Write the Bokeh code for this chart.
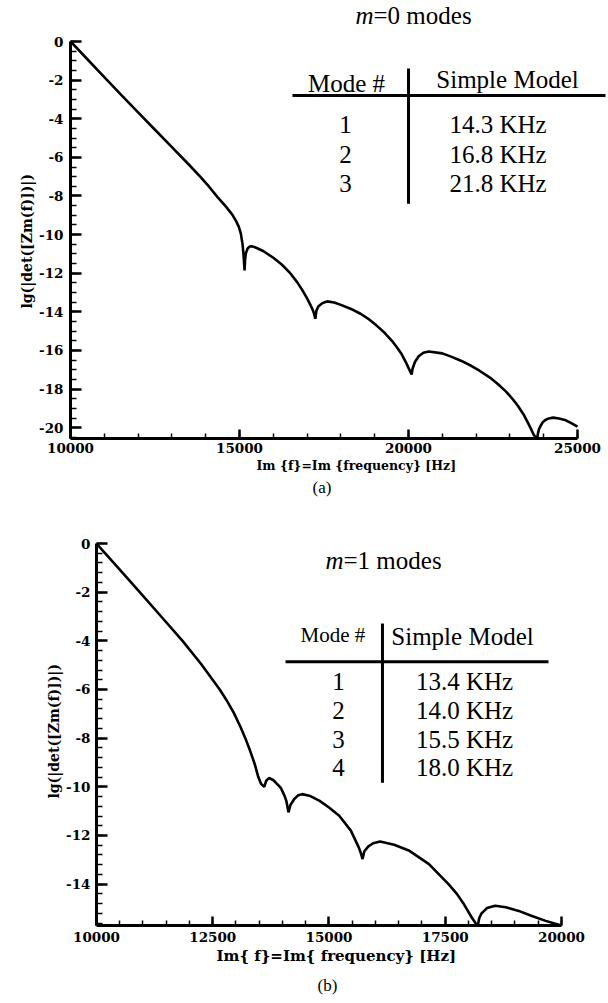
from bokeh.plotting import figure
from bokeh.models import Range1d, SingleIntervalTicker, Label, Arrow, Title
from bokeh.embed import file_html
from bokeh.resources import INLINE

# ---------------- data: panel (a), m=0 modes ----------------
freq_a = [10000, 10500, 11000, 11500, 12000, 12500, 13000, 13500, 13850, 14100,
          14350, 14600, 14800, 14900, 14980, 15040, 15090, 15120, 15150, 15165,
          15190, 15240, 15300, 15350, 15440, 15700, 16000, 16250, 16500, 16700,
          16850, 17000, 17100, 17190, 17244, 17275, 17330, 17450, 17590, 17800,
          18000, 18300, 18580, 18800, 19050, 19300, 19510, 19650, 19800, 19920,
          20000, 20060, 20093, 20120, 20190, 20300, 20440, 20600, 21000, 21260,
          21550, 21840, 22100, 22420, 22650, 22880, 23050, 23230, 23400, 23520,
          23620, 23700, 23760, 23800, 23830, 23860, 23910, 23970, 24050, 24150,
          24280, 24450, 24630, 24800, 25000]
lgdet_a = [0.0, -0.92, -1.84, -2.76, -3.67, -4.57, -5.47, -6.37, -7.02, -7.52,
           -8.06, -8.55, -9.0, -9.3, -9.6, -9.95, -10.5, -11.05, -11.85, -11.3,
           -10.95, -10.72, -10.62, -10.6, -10.64, -10.85, -11.2, -11.55, -12.0, -12.45,
           -12.85, -13.3, -13.65, -14.0, -14.36, -13.95, -13.72, -13.55, -13.46, -13.52,
           -13.64, -13.85, -14.1, -14.35, -14.7, -15.1, -15.5, -15.82, -16.2, -16.6,
           -16.9, -17.12, -17.25, -16.95, -16.6, -16.3, -16.12, -16.05, -16.15, -16.32,
           -16.53, -16.78, -17.05, -17.42, -17.75, -18.12, -18.45, -18.85, -19.3, -19.7,
           -20.05, -20.35, -20.5, -20.65, -20.3, -20.08, -19.9, -19.72, -19.6, -19.52,
           -19.48, -19.52, -19.6, -19.75, -19.95]
modes_a = ["1", "2", "3"]
model_a = ["14.3 KHz", "16.8 KHz", "21.8 KHz"]

# ---------------- data: panel (b), m=1 modes ----------------
freq_b = [10000, 10500, 10930, 11400, 11850, 12250, 12650, 12800, 12950, 13100,
          13200, 13300, 13400, 13480, 13540, 13607, 13650, 13708, 13800, 13960,
          14040, 14086, 14128, 14170, 14253, 14330, 14421, 14600, 14800, 15000,
          15220, 15470, 15640, 15690, 15721, 15760, 15847, 15950, 16100, 16400,
          16730, 17150, 17570, 17750, 17900, 18070, 18150, 18196, 18230, 18280,
          18400, 18575, 18800, 19080, 19350, 19660, 19850, 20000]
lgdet_b = [0.0, -1.07, -2.0, -3.02, -4.0, -4.95, -6.0, -6.45, -6.95, -7.55,
           -8.0, -8.5, -9.05, -9.6, -9.88, -10.0, -9.75, -9.64, -9.72, -10.03,
           -10.35, -10.6, -11.05, -10.75, -10.5, -10.36, -10.3, -10.38, -10.58, -10.85,
           -11.19, -11.8, -12.49, -12.75, -12.97, -12.65, -12.45, -12.32, -12.25, -12.38,
           -12.63, -13.18, -14.0, -14.4, -14.82, -15.37, -15.6, -15.75, -15.4, -15.2,
           -14.98, -14.89, -14.95, -15.1, -15.3, -15.51, -15.62, -15.7]
modes_b = ["1", "2", "3", "4"]
model_b = ["13.4 KHz", "14.0 KHz", "15.5 KHz", "18.0 KHz"]

x_title_a = "Im {f}=Im {frequency} [Hz]"
x_title_b = "Im{ f}=Im{ frequency} [Hz]"
y_title = "lg(|det([Zm(f)])|)"

SERIF = "Liberation Serif"
TICKF = "DejaVu Serif"


def base_fig(h, xr, xb, yr, yb, xint, xminor, yint, yminor, bl, br, bt, bb):
    p = figure(width=608, height=h, x_range=Range1d(*xr), y_range=Range1d(*yr),
               output_backend="svg", toolbar_location=None,
               min_border_left=bl, min_border_right=br,
               min_border_top=bt, min_border_bottom=bb)
    p.outline_line_color = None
    p.grid.visible = False
    p.background_fill_color = "white"
    p.border_fill_color = "white"
    p.xaxis.ticker = SingleIntervalTicker(interval=xint, num_minor_ticks=xminor)
    p.yaxis.ticker = SingleIntervalTicker(interval=yint, num_minor_ticks=yminor)
    p.xaxis.bounds = xb
    p.yaxis.bounds = yb
    p.yaxis.major_label_overrides = {float(v): str(v) for v in range(-30, 1, 2)}
    for ax in (p.xaxis[0], p.yaxis[0]):
        ax.axis_line_width = 3
        ax.axis_line_color = "black"
        ax.major_tick_out = 0
        ax.minor_tick_out = 0
        ax.major_tick_line_width = 2.5
        ax.minor_tick_line_width = 1.5
        ax.major_tick_line_color = "black"
        ax.minor_tick_line_color = "black"
        ax.major_label_text_font = TICKF
        ax.major_label_text_font_style = "bold"
        ax.major_label_text_font_size = "13.5px"
        ax.major_label_text_color = "black"
    p.xaxis.major_tick_in = 9
    p.xaxis.minor_tick_in = 5
    p.yaxis.major_tick_in = 11
    p.yaxis.minor_tick_in = 6
    return p


def txt(p, x, y, s, size="25px", align="center", style="normal"):
    p.add_layout(Label(x=x, y=y, text=s, text_font=SERIF, text_font_size=size,
                       text_align=align, text_baseline="alphabetic",
                       text_font_style=style, text_color="black"))


def rule(p, x0, y0, x1, y1):
    p.add_layout(Arrow(end=None, x_start=x0, y_start=y0, x_end=x1, y_end=y1,
                       line_width=3, line_color="black"))


def side_title(p, side, s, offset, standoff, font, size, style):
    p.add_layout(Title(text=s, align="left", offset=offset, standoff=standoff,
                       text_font=font, text_font_size=size,
                       text_font_style=style, text_color="black"), side)


# ---------------- panel (a) ----------------
pa = base_fig(505, (10000, 25858), (10000, 25000), (-20.56, 2.02), (-20.56, 0),
              5000, 5, 2, 4, 70, 2, 2, 67)
pa.line(freq_a, lgdet_a, line_color="black", line_width=2.6)
pa.xaxis.major_label_standoff = 4
pa.yaxis.major_label_standoff = 7
side_title(pa, "left", y_title, 130, 4, TICKF, "14px", "bold")
side_title(pa, "below", x_title_a, 186, 0, TICKF, "12.5px", "bold")
side_title(pa, "below", "(a)", 242, 6, SERIF, "17px", "normal")

txt(pa, 18965, 1.35, "m", align="right", style="italic")
txt(pa, 18965, 1.35, "=0 modes", align="left")
txt(pa, 18166, -2.175, "Mode #")
txt(pa, 22929, -1.97, "Simple Model")
rule(pa, 16568, -2.80, 25828, -2.80)
rule(pa, 20000, -1.40, 20000, -8.40)
rows_a = [-4.30, -5.85, -7.35]
for m, f, y in zip(modes_a, model_a, rows_a):
    txt(pa, 18136, y, m)
    txt(pa, 22648, y, f)

# ---------------- panel (b) ----------------
pb = base_fig(498, (10000, 20968), (10000, 20000), (-15.7, 1.48), (-15.7, 0),
              2500, 5, 2, 5, 96, 2, 2, 78)
pb.line(freq_b, lgdet_b, line_color="black", line_width=2.6)
pb.xaxis.major_label_standoff = 6
pb.yaxis.major_label_standoff = 6
side_title(pb, "left", y_title, 127, 4, TICKF, "14px", "bold")
side_title(pb, "below", x_title_b, 120, 0, TICKF, "15px", "bold")
side_title(pb, "below", "(b)", 221, 18, SERIF, "17px", "normal")

txt(pb, 15312, -0.70, "m", align="right", style="italic")
txt(pb, 15312, -0.70, "=1 modes", align="left")
txt(pb, 15086, -3.76, "Mode #", size="21px")
txt(pb, 17871, -3.82, "Simple Model")
rule(pb, 14065, -4.86, 19720, -4.86)
rule(pb, 16150, -3.29, 16150, -9.83)
rows_b = [-5.67, -6.86, -8.06, -9.21]
for m, f, y in zip(modes_b, model_b, rows_b):
    txt(pb, 15204, y, m)
    txt(pb, 17914, y, f)

open("out.html", "w").write(file_html([pa, pb], INLINE))
